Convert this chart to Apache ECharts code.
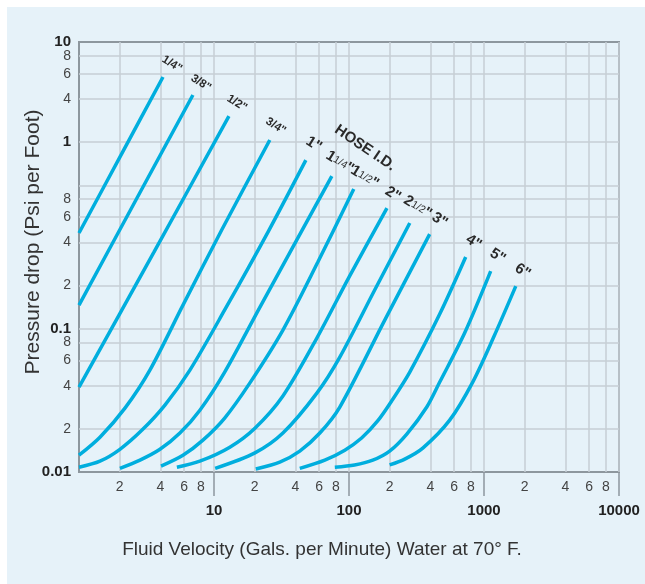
<!DOCTYPE html>
<html>
<head>
<meta charset="utf-8">
<script src="https://cdn.jsdelivr.net/npm/echarts@6/dist/echarts.min.js"></script>
<style>
html, body { margin: 0; padding: 0; background: #fff; }
#panel { position: absolute; left: 7px; top: 7px; width: 638px; height: 577px; background: #e6f2f9; }
#chart { position: absolute; left: 0; top: 0; width: 645px; height: 584px; }
</style>
</head>
<body>
<div id="panel"></div>
<div id="chart"></div>
<script>
// pressure drop curves, [gallons per minute, psi per foot]
const hose_1_4 = [[1, 0.465], [2.05, 1.63], [4.19, 5.7]];
const hose_3_8 = [[1, 0.146], [2.64, 0.79], [6.98, 4.27]];
const hose_1_2 = [[1, 0.0391], [3.59, 0.342], [12.9, 3.04]];
const hose_3_4 = [[1, 0.0131], [1.43, 0.0175], [2.19, 0.0279], [3.35, 0.0514], [5.89, 0.146], [11.4, 0.488], [25.9, 2.07]];
const hose_1 = [[1, 0.0108], [1.43, 0.0119], [2.01, 0.0144], [2.93, 0.0196], [4.33, 0.0293], [6.63, 0.0514], [12.0, 0.135], [25.1, 0.472], [47.9, 1.5]];
const hose_1_1_4 = [[2.01, 0.0106], [2.83, 0.0121], [3.98, 0.0144], [5.59, 0.0187], [7.86, 0.027], [12.0, 0.0498], [21.9, 0.1415], [74.6, 1.16]];
const hose_1_1_2 = [[4.05, 0.011], [5.89, 0.0131], [8.28, 0.0167], [12.0, 0.0238], [18.4, 0.0417], [32.4, 0.0978], [58.8, 0.2915], [108.5, 0.942]];
const hose_2 = [[5.31, 0.0108], [7.86, 0.0119], [13.1, 0.0149], [20.1, 0.0202], [32.4, 0.0339], [57.8, 0.086], [101, 0.2328], [191, 0.694]];
const hose_2_1_2 = [[10.2, 0.0106], [20.1, 0.0136], [32.4, 0.0187], [57.8, 0.0355], [85.5, 0.0633], [155, 0.186], [282, 0.546]];
const hose_3 = [[20.4, 0.0105], [30.7, 0.01173], [43.2, 0.014], [60.8, 0.0187], [85.5, 0.0284], [184, 0.1148], [396, 0.457]];
const hose_4 = [[43.2, 0.0106], [66.2, 0.0121], [93.1, 0.0142], [124, 0.01725], [163, 0.0227], [207, 0.0313], [282, 0.0498], [470, 0.1264], [732, 0.316]];
const hose_5 = [[78.5, 0.0108], [110, 0.0112], [150, 0.0121], [200, 0.014], [268, 0.0184], [377, 0.0284], [470, 0.0424], [720, 0.0936], [1121, 0.252]];
const hose_6 = [[200, 0.0112], [259, 0.0123], [352, 0.01468], [557, 0.023], [825, 0.0424], [1180, 0.0874], [1720, 0.198]];

const hoseNames = ['1/4"', '3/8"', '1/2"', '3/4"', '1"', '1{f|1/4}"', '1{f|1/2}"', '2"', '2{f|1/2}"', '3"', '4"', '5"', '6"'];

// tick labels
const xMinorTicks = [2, 4, 6, 8, 20, 40, 60, 80, 200, 400, 600, 800, 2000, 4000, 6000, 8000];
const xMinorText = ['2', '4', '6', '8', '2', '4', '6', '8', '2', '4', '6', '8', '2', '4', '6', '8'];
const xDecades = [10, 100, 1000, 10000];
const xDecadeText = ['10', '100', '1000', '10000'];
const yGridTicks = [0.02, 0.04, 0.06, 0.08, 0.1, 0.2, 0.4, 0.6, 0.8, 1, 2, 4, 6, 8];
const yLabelValues = [0.01, 0.02, 0.04, 0.06, 0.08, 0.1, 0.2, 0.4, 0.6, 0.8, 2, 4, 6, 8];
const yLabelText = ['0.01', '2', '4', '6', '8', '0.1', '2', '4', '6', '8', '1', '4', '6', '8'];
const yTopValues = [10];
const yTopText = ['10'];

const hoseData = [hose_1_4, hose_3_8, hose_1_2, hose_3_4, hose_1, hose_1_1_4, hose_1_1_2, hose_2, hose_2_1_2, hose_3, hose_4, hose_5, hose_6];
// label offset from the top end of each curve, px
const labelOffsets = [[9, -13], [8, -12], [8, -13], [6, -14], [8, -16], [8, -14], [11, -12], [6, -14], [8, -16], [10, -14], [8, -15], [7, -15], [7, -15]];

const FONT = '"Liberation Sans", Arial, sans-serif';
const lineColor = '#00aede';
const gridColor = '#c6ced5';
const frameColor = '#8d979e';

const lg = (v) => Math.log10(v);

function pick(values, texts, v) {
  for (let i = 0; i < values.length; i++) {
    if (Math.abs(lg(values[i]) - v) < 1e-6) return texts[i];
  }
  return '';
}

const boldLabel = { fontFamily: FONT, fontSize: 15, fontWeight: 'bold', color: '#222' };
const noLine = { show: false, onZero: false };

const option = {
  animation: false,
  grid: {
    left: 79, top: 42, width: 540, height: 430,
    show: true, borderColor: frameColor, borderWidth: 2, backgroundColor: 'transparent'
  },
  xAxis: [
    {
      type: 'value', min: 0, max: 4, position: 'bottom',
      axisLine: noLine,
      axisTick: { show: false, customValues: xMinorTicks.concat(xDecades).map(lg) },
      splitLine: { show: true, lineStyle: { color: gridColor, width: 1.5 } },
      axisLabel: {
        customValues: xMinorTicks.map(lg), margin: 8,
        fontFamily: FONT, fontSize: 14, color: '#444',
        formatter: (v) => pick(xMinorTicks, xMinorText, v)
      }
    },
    {
      type: 'value', min: 0, max: 4, position: 'bottom',
      axisLine: noLine,
      splitLine: { show: false },
      axisTick: { show: true, customValues: xDecades.map(lg), length: 24, lineStyle: { color: frameColor, width: 1.5 } },
      axisLabel: Object.assign({
        customValues: xDecades.map(lg), margin: 31, showMaxLabel: true,
        formatter: (v) => pick(xDecades, xDecadeText, v)
      }, boldLabel)
    }
  ],
  yAxis: [
    {
      type: 'value', min: -2, max: 1, position: 'left',
      axisLine: noLine,
      axisTick: { show: false, customValues: yGridTicks.map(lg) },
      splitLine: { show: true, lineStyle: { color: gridColor, width: 1.5 } },
      axisLabel: {
        customValues: yLabelValues.map(lg), margin: 8,
        showMinLabel: true,
        formatter: (v) => {
          const t = pick(yLabelValues, yLabelText, v);
          return ['0.01', '0.1', '1'].includes(t) ? '{b|' + t + '}' : '{n|' + t + '}';
        },
        rich: {
          b: boldLabel,
          n: { fontFamily: FONT, fontSize: 14, color: '#444' }
        }
      }
    },
    {
      type: 'value', min: -2, max: 1, position: 'left',
      axisLine: noLine,
      axisTick: { show: false },
      splitLine: { show: false },
      axisLabel: Object.assign({
        customValues: yTopValues.map(lg), margin: 8, showMaxLabel: true,
        formatter: (v) => pick(yTopValues, yTopText, v)
      }, boldLabel)
    }
  ],
  series: hoseData.map((d) => ({
    type: 'line',
    xAxisIndex: 0,
    yAxisIndex: 0,
    symbol: 'none',
    smooth: 0.3,
    lineStyle: { color: lineColor, width: 3.5 },
    data: d.map((p) => [lg(p[0]), lg(p[1])])
  }))
};

const chart = echarts.init(document.getElementById('chart'));
chart.setOption(option);

const textStyle = { fontFamily: FONT, fill: '#2a2a2a', align: 'center', verticalAlign: 'middle' };
const graphics = [
  {
    type: 'text', x: 33, y: 242, rotation: Math.PI / 2,
    style: Object.assign({}, textStyle, { text: 'Pressure drop (Psi per Foot)', fontSize: 21, fill: '#333' })
  },
  {
    type: 'text', x: 322, y: 550,
    style: Object.assign({}, textStyle, { text: 'Fluid Velocity (Gals. per Minute) Water at 70° F.', fontSize: 19, fill: '#333' })
  },
  {
    type: 'text', x: 365, y: 148, rotation: -34 * Math.PI / 180,
    style: Object.assign({}, textStyle, { text: 'HOSE I.D.', fontSize: 15, fontWeight: 'bold' })
  }
];

hoseData.forEach((d, i) => {
  const last = d[d.length - 1];
  const p = chart.convertToPixel({ seriesIndex: i }, [lg(last[0]), lg(last[1])]);
  const big = hoseNames[i].length <= 2 || hoseNames[i].indexOf('{') >= 0;
  graphics.push({
    type: 'text',
    x: p[0] + labelOffsets[i][0],
    y: p[1] + labelOffsets[i][1],
    rotation: -32 * Math.PI / 180,
    style: Object.assign({}, textStyle, {
      text: hoseNames[i],
      fontSize: big ? 15 : 11.5,
      fontWeight: 'bold',
      rich: { f: { fontFamily: FONT, fontSize: 10.5, fill: '#2a2a2a' } }
    })
  });
});

chart.setOption({ graphic: graphics });
</script>
</body>
</html>
